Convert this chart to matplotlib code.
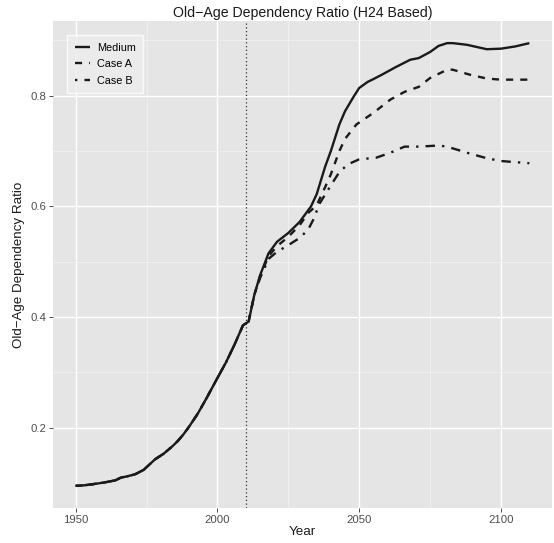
import numpy as np
import matplotlib
matplotlib.use("Agg")
import matplotlib.pyplot as plt

plt.rcParams['font.family'] = ['Liberation Sans', 'DejaVu Sans']

# observed ratio, shared by every scenario
hist_years = [1950, 1953, 1956, 1960, 1964, 1966, 1968, 1971, 1974, 1978, 1981, 1984,
              1986, 1988, 1990, 1993, 1996, 2000, 2003, 2006, 2009, 2011]
hist_ratio = [0.095, 0.096, 0.098, 0.101, 0.105, 0.110, 0.112, 0.116, 0.124, 0.143, 0.153, 0.166,
              0.176, 0.188, 0.202, 0.225, 0.252, 0.290, 0.318, 0.350, 0.385, 0.392]

# projections
med_years = [2013, 2015, 2018, 2021, 2025, 2029, 2031, 2033, 2035, 2038, 2040, 2043, 2045,
             2048, 2050, 2053, 2055, 2058, 2063, 2068, 2071, 2075, 2078, 2081, 2083, 2088,
             2095, 2100, 2105, 2110]
med_ratio = [0.440, 0.475, 0.515, 0.536, 0.552, 0.572, 0.586, 0.600, 0.622, 0.672, 0.700, 0.748, 0.772,
             0.798, 0.814, 0.825, 0.830, 0.838, 0.852, 0.865, 0.868, 0.879, 0.890, 0.895, 0.895, 0.892,
             0.884, 0.885, 0.889, 0.895]

a_years = [2013, 2015, 2018, 2021, 2025, 2029, 2032, 2035, 2038, 2040, 2043, 2045, 2049,
           2055, 2061, 2066, 2071, 2075, 2081, 2083, 2089, 2095, 2100, 2110]
a_ratio = [0.440, 0.473, 0.510, 0.528, 0.545, 0.566, 0.588, 0.602, 0.635, 0.658, 0.700, 0.722, 0.748,
           0.769, 0.793, 0.807, 0.816, 0.832, 0.847, 0.847, 0.838, 0.831, 0.829, 0.829]

b_years = [2013, 2015, 2018, 2021, 2025, 2029, 2032, 2034, 2036, 2040, 2043, 2046, 2050,
           2056, 2061, 2066, 2071, 2078, 2081, 2088, 2095, 2100, 2110]
b_ratio = [0.440, 0.470, 0.505, 0.518, 0.530, 0.543, 0.558, 0.578, 0.605, 0.638, 0.662, 0.676, 0.685,
           0.688, 0.697, 0.708, 0.708, 0.710, 0.708, 0.697, 0.687, 0.682, 0.678]

fig = plt.figure(figsize=(5.54, 5.43), dpi=100)
ax = fig.add_axes([53 / 554, 1 - 508 / 543, 499 / 554, 487 / 543])
ax.set_facecolor('#E5E5E5')
for s in ax.spines.values():
    s.set_visible(False)

lw = 1.7
series = [
    ('Medium', med_years, med_ratio, '-'),
    ('Case A', a_years, a_ratio, (0, (3, 3))),
    ('Case B', b_years, b_ratio, (0, (1, 3, 4, 3))),
]
for name, yrs, vals, ls in series:
    x = np.array(hist_years + yrs)
    y = np.array(hist_ratio + vals)
    ax.plot(x, y, color='#1A1A1A', lw=lw, ls=ls, label=name, solid_capstyle='butt',
            dash_capstyle='butt', zorder=3)

ax.axvline(2010, color='#333333', lw=0.9, ls=(0, (1, 2)), zorder=2)

allv = hist_ratio + med_ratio + a_ratio + b_ratio
lo, hi = min(allv), max(allv)
pad = 0.05 * (hi - lo)
ax.set_ylim(lo - pad, hi + pad)
ax.set_xlim(1950 - 8, 2110 + 8)

ax.set_xticks([1950, 2000, 2050, 2100])
ax.set_xticks([1975, 2025, 2075], minor=True)
ax.set_yticks([0.2, 0.4, 0.6, 0.8])
ax.set_yticks([0.3, 0.5, 0.7, 0.9], minor=True)
ax.set_yticklabels(['0.2', '0.4', '0.6', '0.8'])
ax.grid(which='major', color='white', lw=1.0, zorder=0)
ax.grid(which='minor', color='#F2F2F2', lw=0.6, zorder=0)
ax.set_axisbelow(True)
ax.tick_params(which='major', length=3, width=0.7, color='#4D4D4D', labelcolor='#4D4D4D',
               labelsize=8.2, pad=2)
ax.tick_params(which='minor', length=0)

ax.set_title('Old\u2212Age Dependency Ratio (H24 Based)', fontsize=10.2, color='#1A1A1A', pad=3)
ax.set_xlabel('Year', fontsize=9.6, color='#1A1A1A', labelpad=1)
ax.set_ylabel('Old\u2212Age Dependency Ratio', fontsize=9.6, color='#1A1A1A', labelpad=4)

leg = ax.legend(loc='upper left', bbox_to_anchor=(0.018, 0.982), fontsize=7.8, frameon=True,
                fancybox=False, handlelength=1.4, handletextpad=0.6, labelspacing=0.6,
                borderpad=0.7)
leg.get_frame().set_facecolor('#EDEDED')
leg.get_frame().set_edgecolor('white')
leg.get_frame().set_linewidth(1.0)

fig.savefig('out.png', dpi=100)
